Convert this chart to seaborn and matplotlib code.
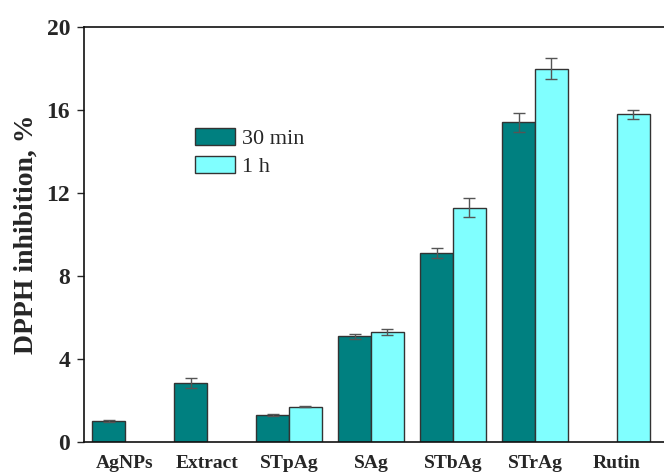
import numpy as np
import pandas as pd
import matplotlib
matplotlib.use("Agg")
import matplotlib.pyplot as plt
from matplotlib.patches import Patch
import seaborn as sns

categories = ["AgNPs", "Extract", "STpAg", "SAg", "STbAg", "STrAg", "Rutin"]
series = ["30 min", "1 h"]
vals_30min = [1.0, 2.85, 1.3, 5.1, 9.1, 15.4, np.nan]
err_30min = [0.05, 0.25, 0.05, 0.12, 0.25, 0.46, np.nan]
vals_1h = [np.nan, np.nan, 1.7, 5.3, 11.3, 18.0, 15.8]
err_1h = [np.nan, np.nan, 0.03, 0.15, 0.45, 0.5, 0.22]
yticks = [0, 4, 8, 12, 16, 20]
colors = {"30 min": "#008080", "1 h": "#80FFFF"}

rows = []
for s, vals, errs in [("30 min", vals_30min, err_30min), ("1 h", vals_1h, err_1h)]:
    for c, v, e in zip(categories, vals, errs):
        rows.append({"cat": c, "series": s, "val": v, "err": e})
df = pd.DataFrame(rows)
dfp = df.dropna(subset=["val"])

sns.set_style("ticks")
plt.rcParams["font.family"] = ["Liberation Serif", "DejaVu Serif"]

fig = plt.figure(figsize=(6.64, 4.72), dpi=100)
W, H = 664, 472
left, top, bottom, right = 84, 27, 442, 668
ax = fig.add_axes([left / W, 1 - bottom / H, (right - left) / W, (bottom - top) / H])

sns.barplot(data=dfp, x="cat", y="val", hue="series", order=categories,
            hue_order=series, palette=colors, width=0.8, errorbar=None,
            edgecolor="#333333", linewidth=1.0, saturation=1, ax=ax, legend=False)

for cont, s in zip(ax.containers, series):
    present = [c for c in categories if c in set(dfp[dfp["series"] == s]["cat"])]
    sub = dfp[dfp["series"] == s].set_index("cat").reindex(present)
    for bar, (c, r) in zip(cont, sub.iterrows()):
        xc = bar.get_x() + bar.get_width() / 2
        ax.errorbar(xc, bar.get_height(), yerr=r["err"], fmt="none",
                    ecolor="#555555", elinewidth=1.0, capsize=4, capthick=1.0)

ax.set_xlim(-0.5, -0.5 + (right - left) / 82.0)
ax.set_ylim(0, 20)
ax.set_yticks(yticks)
ax.set_yticklabels([str(t) for t in yticks], fontsize=17, fontweight="bold")
ax.set_xticks(range(len(categories)))
ax.set_xticklabels(categories, fontsize=14, fontweight="bold")
ax.tick_params(axis="x", length=0, pad=9)
ax.tick_params(axis="y", length=5, width=1, direction="out", pad=5)
ax.set_xlabel("")
ax.set_ylabel("DPPH inhibition, %", fontsize=20, fontweight="bold")
ax.yaxis.set_label_coords(-0.077, 0.5)
for sp in ["left", "bottom", "top"]:
    ax.spines[sp].set_visible(True)
    ax.spines[sp].set_linewidth(1.2)
    ax.spines[sp].set_color("#111111")
ax.spines["right"].set_visible(False)

handles = [Patch(facecolor=colors[s], edgecolor="#333333", linewidth=1.0, label=s) for s in series]
leg = ax.legend(handles=handles, loc="upper left",
                bbox_to_anchor=(184 / W, 1 - 117 / H), bbox_transform=fig.transFigure,
                frameon=False, fontsize=16, handlelength=1.8, handleheight=0.8,
                handletextpad=0.3, labelspacing=0.3, borderpad=0)

fig.savefig("out.png", dpi=100)
